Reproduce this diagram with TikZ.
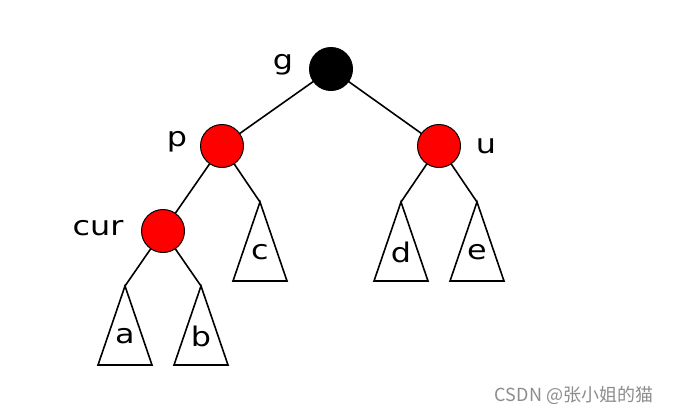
\documentclass[tikz,border=0pt]{standalone}
\usepackage{fontspec}
\usetikzlibrary{calc}
\setsansfont[FakeStretch=1.18]{DejaVu Sans}
\newfontfamily\cjk{Noto Sans CJK SC}
\tikzset{every picture/.style={line width=1.6pt}}
\tikzset{
  rbnode/.style={circle, draw=black, line width=1pt, fill=#1,
                 minimum size=43pt, inner sep=0pt, outer sep=0pt},
  rbnode/.default={red},
  lbl/.style={font=\sffamily\fontsize{27}{27}\selectfont, inner sep=0pt},
}
% subtree: apex coordinate, then triangle and its letter
\newcommand\subtree[3]{%
  \coordinate (#1) at (#2);
  \draw (#1) -- ++(-27,79) -- ++(54,0) -- cycle;
  \node[lbl] (#1l) at ($(#1)+(0,50)$) {#3};
}

\begin{document}
\begin{tikzpicture}[x=1pt, y=-1pt]
  \useasboundingbox (0,0) rectangle (676,413);
  % edges first, so the circles lie on top
  \coordinate (g) at (331,69);
  \coordinate (p) at (222,146);
  \coordinate (u) at (439,146);
  \coordinate (cur) at (163,231);
  % subtrees
  \subtree{c}{260,202}{c}
  \subtree{d}{401,202}{d}
  \subtree{e}{477,202}{e}
  \subtree{a}{125,286}{a}
  \subtree{b}{201,286}{b}
  \draw (g) -- (p);
  \draw (g) -- (u);
  \draw (p) -- (cur);
  \draw (p) -- (c);
  \draw (u) -- (d);
  \draw (u) -- (e);
  \draw (cur) -- (a);
  \draw (cur) -- (b);
  % nodes of the tree
  \node[rbnode=black] (gn) at (g) {};
  \node[rbnode] (pn) at (p) {};
  \node[rbnode] (un) at (u) {};
  \node[rbnode] (curn) at (cur) {};
  % names beside the nodes
  \node[lbl] (gl) at (283,65) {g};
  \node[lbl] (pl) at (177,142) {p};
  \node[lbl] (ul) at (486,146) {u};
  \node[lbl] (curl) at (98,228) {cur};
  % watermark
  \node[text=black!45, font=\cjk\fontsize{18}{18}\selectfont] (wm) at (574,395) {CSDN @张小姐的猫};
\end{tikzpicture}
\end{document}
